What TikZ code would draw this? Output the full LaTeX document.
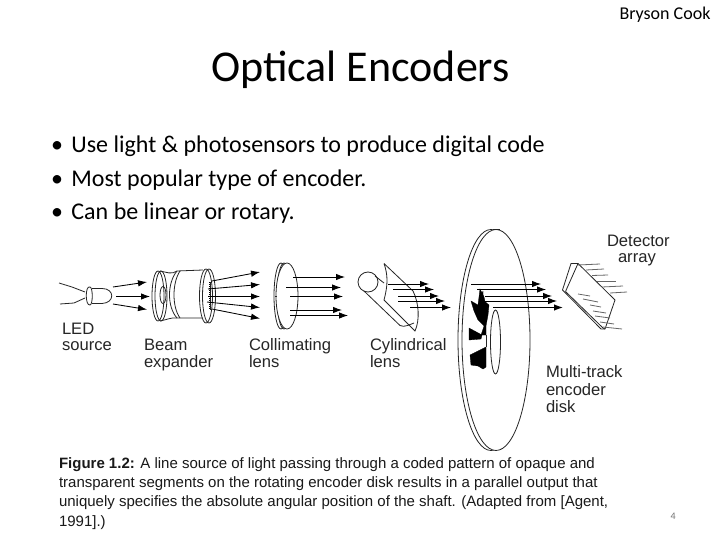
\documentclass[tikz,border=0pt]{standalone}
\usepackage{fontspec}
\setmainfont{Carlito}
\newfontfamily\labelfont{Liberation Sans}
\usetikzlibrary{arrows.meta}
\tikzset{
  txt/.style={anchor=base west,inner sep=0pt,outer sep=0pt},
  lbl/.style={txt,font=\labelfont\fontsize{16.6}{16.6}\selectfont,text=black!85},
  captxt/.style={txt,font=\labelfont\fontsize{15}{15}\selectfont,text=black!90},
  bul/.style={txt,font=\fontsize{24}{24}\selectfont},
  partline/.style={draw=black!85,line width=0.8pt},
  ray/.style={draw=black,line width=0.85pt,-{Latex[length=9pt,width=6.5pt]}},
  pinline/.style={draw=black!60,line width=0.8pt},
  seg/.style={fill=black,draw=black,line width=0.3pt}
}
\begin{document}
\begin{tikzpicture}[x=1pt,y=-1pt]
\useasboundingbox (0,0) rectangle (720,540);
\fill[white] (0,0) rectangle (720,540);
% texts
\node[txt,font=\fontsize{18}{18}\selectfont] (author) at (619.5,20) {Bryson Cook};
\node[txt,font=\fontsize{44}{44}\selectfont] (title) at (211,82) {Optical Encoders};
\node[bul] (b1) at (51,152.5) {•\hspace{8.5pt}Use light \& photosensors to produce digital code};
\node[bul] (b2) at (51,186.5) {•\hspace{8.5pt}Most popular type of encoder.};
\node[bul] (b3) at (51,220) {•\hspace{8.5pt}Can be linear or rotary.};
\node[lbl] (l1) at (62,334) {LED};
\node[lbl] (l2) at (62,350) {source};
\node[lbl] (l3) at (144,350) {Beam};
\node[lbl] (l4) at (144,367) {expander};
\node[lbl] (l5) at (249,350) {Collimating};
\node[lbl] (l6) at (249,367) {lens};
\node[lbl] (l7) at (370,350) {Cylindrical};
\node[lbl] (l8) at (370,367) {lens};
\node[lbl] (l9) at (546,377) {Multi-track};
\node[lbl] (l10) at (546,395) {encoder};
\node[lbl] (l11) at (546,412) {disk};
\node[lbl] (l12) at (607,246) {Detector};
\node[lbl] (l13) at (618,262) {array};
\node[captxt] (c1) at (59,468) {\textbf{Figure 1.2:} A line source of light passing through a coded pattern of opaque and};
\node[captxt] (c2) at (59,487) {transparent segments on the rotating encoder disk results in a parallel output that};
\node[captxt] (c3) at (59,506) {uniquely specifies the absolute angular position of the shaft. (Adapted from [Agent,};
\node[captxt] (c4) at (59,526) {1991].)};
\node[txt,font=\fontsize{10}{10}\selectfont,text=black!55] (pg) at (670.5,519) {4};
% LED
\draw[partline] (59,283) -- (72,287) -- (85,292);
\draw[partline] (60,304) -- (74,303) -- (85,298);
\draw[partline] (90,287) .. controls (85,285) and (85,306) .. (90,305) .. controls (93,305) and (93,287) .. (90,287);
\draw[partline] (92,288.5) -- (102,288.5) .. controls (115,288.5) and (115,303) .. (102,303.5) -- (92,303.5);
% rays 1
\draw[ray] (113,287) -- (147,282);
\draw[ray] (116,296.5) -- (150,296.5);
\draw[ray] (113,304) -- (147,309.5);
% beam expander
\draw[partline] (158,296) ellipse [x radius=6pt,y radius=25pt];
\draw[partline] (161,296) ellipse [x radius=6pt,y radius=25pt];
\draw[partline] (163,295) ellipse [x radius=3pt,y radius=8.5pt];
\draw[partline] (160,271) .. controls (166,272) and (172,275) .. (177,271) -- (203,270);
\draw[partline] (160,321) .. controls (166,320) and (172,317) .. (177,318) -- (203,318);
\draw[partline] (177,271) .. controls (167,283) and (167,307) .. (177,318);
\draw[partline] (180,271) .. controls (172,283) and (172,307) .. (180,318);
\draw[partline] (206,296) ellipse [x radius=6.5pt,y radius=27pt];
\draw[partline] (209,296) ellipse [x radius=6.5pt,y radius=27pt];
\draw[partline] (210,282) -- (210,310);
\draw[black,line width=1pt,densely dotted] (209,282) -- (209,310);
% rays 2
\draw[ray] (212,281) -- (260,272);
\draw[ray] (208,289) -- (260,284.5);
\draw[ray] (208,296.5) -- (260,296.5);
\draw[ray] (207,302) -- (260,307.5);
\draw[ray] (212,309) -- (260,318.5);
% collimating lens
\draw[partline] (281,296) ellipse [x radius=7pt,y radius=33pt];
\draw[partline] (284,296) ellipse [x radius=7pt,y radius=33pt];
\draw[partline,fill=white] (287,296) ellipse [x radius=11pt,y radius=33pt];
\draw[partline] (275,296) -- (277,296);
% rays 3
\draw[ray] (293,277) -- (345,277);
\draw[ray] (286,287.5) -- (341,287.5);
\draw[ray] (290,296.5) -- (343,296.5);
\draw[ray] (290,310) -- (342,310);
\draw[ray] (290,315.5) -- (348,315.5);
% cylindrical lens
\draw[partline] (368,282) circle [radius=10pt];
\draw[partline] (364,291) -- (400,325.5);
\draw[partline] (375,276) -- (384,283);
\draw[partline] (400,325.5) .. controls (404,328) and (411,324) .. (414,323);
\draw[partline] (384,263.5) -- (413,291) .. controls (419,303) and (420,320) .. (415,331) -- (384,300) .. controls (388,285) and (388,275) .. (384,263.5);
% rays 4
\draw[ray] (388,284) -- (429,284);
\draw[ray] (393,289.5) -- (434,289.5);
\draw[ray] (398,296) -- (439,296);
\draw[ray] (398,301) -- (445,301);
\draw[ray] (410,307.5) -- (451,307.5);
% disk
\draw[partline] (491,340) ellipse [x radius=33pt,y radius=110.5pt];
\draw[partline,fill=white] (496,340) ellipse [x radius=34pt,y radius=110.5pt];
\draw[partline] (495.5,342) ellipse [x radius=5pt,y radius=32pt];
\draw[partline] (493,229) -- (500,229);
% segments
\fill[seg] (483,291) -- (478,305) -- (471,301) -- (474,311) -- (478,320) -- (484,326) -- (481,335) -- (486,335) -- (486,326) -- (488,315) -- (489,305) -- (483,300) -- (483,291);
\fill[seg] (480,289) -- (478,305) -- (486,306) -- (484,297) -- cycle;
\fill[seg] (469,328) -- (482,335) -- (481,339) -- (469,340) -- cycle;
\fill[seg] (486,347) -- (470,355) -- (471,365) -- (478,366) -- (483,369) -- (486,367) -- cycle;
\draw[partline] (486,335) -- (486,347);
% rays 5
\draw[ray] (471,284) -- (541,284);
\draw[ray] (477,289.5) -- (546,289.5);
\draw[ray] (485,296) -- (552,296);
\draw[ray] (485,301) -- (557,301);
\draw[line width=1.1pt,black,-{Latex[length=9pt,width=6.5pt]}] (493,307.5) -- (563,307.5);
% detector
\draw[partline] (571,263.5) -- (578,263.5) -- (615,300) -- (605,329) -- (601,329) -- (562.5,290) -- cycle;
\draw[partline] (565.5,291.5) -- (603,328) -- (605,329);
\draw[partline] (565.5,291.5) -- (578,263.5);
\draw[pinline] (578,265) -- (600,264);
\draw[pinline] (586,270) -- (604,269);
\draw[pinline] (592,275.5) -- (608,275);
\draw[pinline] (597,281) -- (616,281);
\draw[pinline] (602,287) -- (623,286);
\draw[pinline] (610,293) -- (627,292);
\draw[pinline] (578,294) -- (590,296);
\draw[pinline] (583,299) -- (598,302);
\draw[pinline] (590,305) -- (601,307);
\draw[pinline] (593,311) -- (606,313);
\draw[pinline] (595,316) -- (610,318);
\draw[pinline] (600,322) -- (614,324);
\draw[pinline] (603,327) -- (622,329);
\end{tikzpicture}
\end{document}
